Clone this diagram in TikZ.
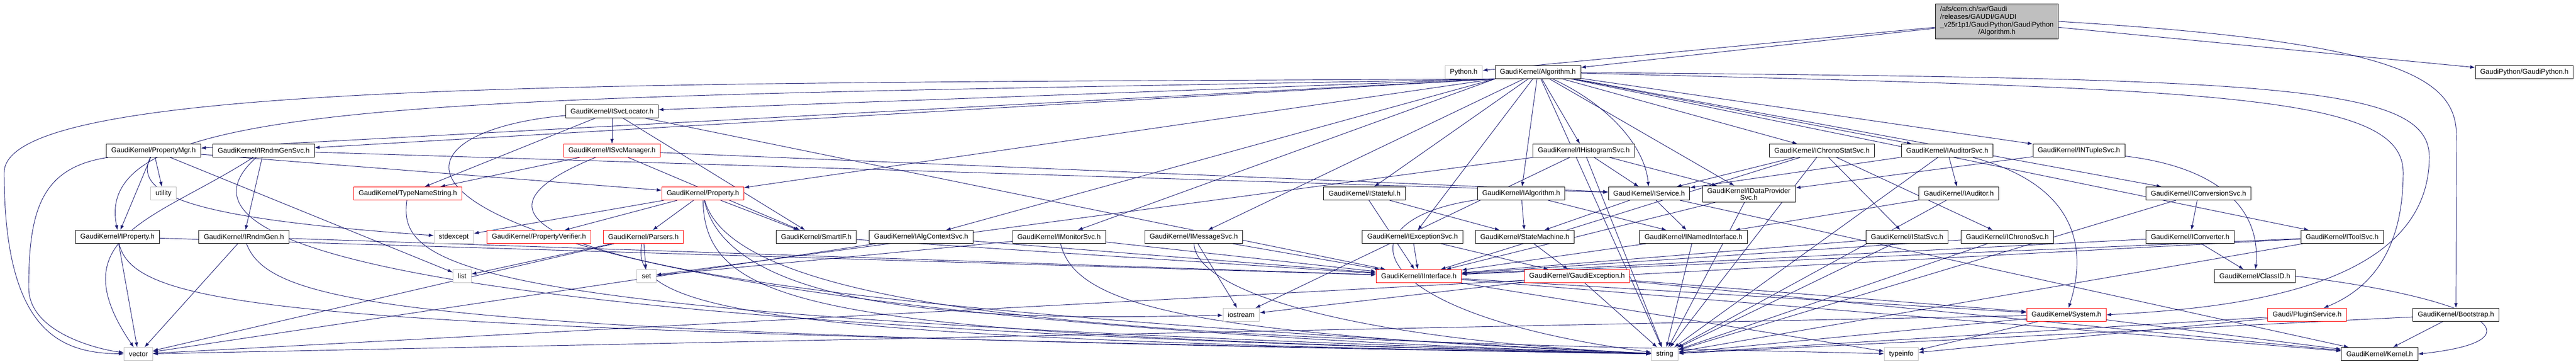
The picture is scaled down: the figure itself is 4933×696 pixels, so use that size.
\documentclass[tikz,border=0pt]{standalone}
\usepackage{fontspec}
\setmainfont{Liberation Sans}
\usetikzlibrary{arrows.meta,backgrounds}
\definecolor{edgeblue}{RGB}{25,25,112}
\definecolor{grey75}{RGB}{191,191,191}
\begin{document}
\begin{tikzpicture}[x=0.75pt,y=-0.75pt,
    hdr/.style={draw=black,fill=white,line width=0.75pt,minimum height=18.75pt,inner xsep=7pt,inner ysep=1pt,font=\fontsize{10}{10}\selectfont},
    sys/.style={hdr,draw=grey75},
    trunc/.style={hdr,draw=red},
    inc/.style={draw=edgeblue,line width=0.7pt,-{Latex[length=7pt,width=5pt]}}]
\useasboundingbox (0,0) rectangle (4933,696);
\node[hdr,fill=grey75,inner ysep=3pt] (root) at (3824,41) {\fontsize{10}{11}\selectfont\begin{tabular}{@{}l@{}}/afs/cern.ch/sw/Gaudi\\/releases/GAUDI/GAUDI\\\_v25r1p1/GaudiPython/GaudiPython\\\multicolumn{1}{@{}c@{}}{/Algorithm.h}\end{tabular}};
\node[sys] (python) at (2803,138) {Python.h};
\node[hdr] (algo) at (2945,138) {GaudiKernel/Algorithm.h};
\node[hdr] (gpy) at (4834,138) {GaudiPython/GaudiPython.h};
\node[hdr] (svcloc) at (1172,213) {GaudiKernel/ISvcLocator.h};
\node[hdr] (propmgr) at (294,288) {GaudiKernel/PropertyMgr.h};
\node[hdr] (rndmsvc) at (505,288) {GaudiKernel/IRndmGenSvc.h};
\node[trunc] (svcmgr) at (1172,288) {GaudiKernel/ISvcManager.h};
\node[hdr] (histo) at (3033,288) {GaudiKernel/IHistogramSvc.h};
\node[hdr] (chronostat) at (3489,288) {GaudiKernel/IChronoStatSvc.h};
\node[hdr] (auditorsvc) at (3729,288) {GaudiKernel/IAuditorSvc.h};
\node[hdr] (ntuple) at (3981,288) {GaudiKernel/INTupleSvc.h};
\node[sys] (utility) at (313,370) {utility};
\node[trunc] (typename) at (781,370) {GaudiKernel/TypeNameString.h};
\node[trunc] (property) at (1346,370) {GaudiKernel/Property.h};
\node[hdr] (istateful) at (2613,370) {GaudiKernel/IStateful.h};
\node[hdr] (ialgo) at (2913,370) {GaudiKernel/IAlgorithm.h};
\node[hdr] (iservice) at (3158,370) {GaudiKernel/IService.h};
\node[hdr,align=center,inner ysep=3pt] (dataprov) at (3349,371) {GaudiKernel/IDataProvider\\Svc.h};
\node[hdr] (iauditor) at (3751,370) {GaudiKernel/IAuditor.h};
\node[hdr] (convsvc) at (4210,370) {GaudiKernel/IConversionSvc.h};
\node[hdr] (iprop) at (225,453) {GaudiKernel/IProperty.h};
\node[hdr] (rndmgen) at (467,453) {GaudiKernel/IRndmGen.h};
\node[sys] (stdexcept) at (869,453) {stdexcept};
\node[trunc] (verifier) at (1032,453) {GaudiKernel/PropertyVerifier.h};
\node[trunc] (parsers) at (1232,453) {GaudiKernel/Parsers.h};
\node[hdr] (smartif) at (1563,453) {GaudiKernel/SmartIF.h};
\node[hdr] (algctx) at (1764,453) {GaudiKernel/IAlgContextSvc.h};
\node[hdr] (monitor) at (2028,453) {GaudiKernel/IMonitorSvc.h};
\node[hdr] (msgsvc) at (2286,453) {GaudiKernel/IMessageSvc.h};
\node[hdr] (excsvc) at (2705,453) {GaudiKernel/IExceptionSvc.h};
\node[hdr] (statemach) at (2920,453) {GaudiKernel/StateMachine.h};
\node[hdr] (named) at (3243,453) {GaudiKernel/INamedInterface.h};
\node[hdr] (statsvc) at (3652,453) {GaudiKernel/IStatSvc.h};
\node[hdr] (chronosvc) at (3844,453) {GaudiKernel/IChronoSvc.h};
\node[hdr] (converter) at (4194,453) {GaudiKernel/IConverter.h};
\node[hdr] (toolsvc) at (4485,453) {GaudiKernel/IToolSvc.h};
\node[sys] (list) at (885,528) {list};
\node[sys] (set) at (1238,528) {set};
\node[trunc] (iinterface) at (2717,528) {GaudiKernel/IInterface.h};
\node[trunc] (gaudiexc) at (3020,528) {GaudiKernel/GaudiException.h};
\node[hdr] (classid) at (4318,528) {GaudiKernel/ClassID.h};
\node[sys] (iostream) at (2377,602) {iostream};
\node[trunc] (system) at (3957,602) {GaudiKernel/System.h};
\node[trunc] (plugin) at (4418,602) {Gaudi/PluginService.h};
\node[hdr] (boot) at (4703,602) {GaudiKernel/Bootstrap.h};
\node[sys] (vector) at (265,677) {vector};
\node[sys] (string) at (3188,677) {string};
\node[sys] (typeinfo) at (3641,677) {typeinfo};
\node[hdr] (kernel) at (4557,677) {GaudiKernel/Kernel.h};
\begin{scope}[on background layer]
\draw[inc] (root) -- (python);
\draw[inc] (root) -- (algo);
\draw[inc] (root) -- (gpy);
\draw[inc] (root.east) .. controls (4600,80) and (4704,150) .. (4704,260) -- (boot);
\draw[inc] (algo.south west) -- (svcloc);
\draw[inc] (algo.south west) -- (propmgr);
\draw[inc] (algo.south west) -- (rndmsvc);
\draw[inc] (algo.south west) .. controls (900,190) and (170,175) .. (iprop.north);
\draw[inc] (algo.south west) .. controls (1200,160) and (8,150) .. (8,330) .. controls (8,640) and (120,675) .. (vector);
\draw[inc] (algo.south west) -- (property);
\draw[inc] (algo.south west) -- (algctx);
\draw[inc] (algo.south west) -- (monitor);
\draw[inc] (algo) -- (msgsvc);
\draw[inc] (algo) -- (istateful);
\draw[inc] (algo) -- (excsvc);
\draw[inc] (algo) -- (ialgo);
\draw[inc] (algo) -- (histo);
\draw[inc] (algo) .. controls (3080,200) and (3150,280) .. (iservice);
\draw[inc] (algo) -- (dataprov);
\draw[inc] (algo) -- (chronostat);
\draw[inc] (algo) -- (auditorsvc);
\draw[inc] (algo) -- (ntuple);
\draw[inc] (algo) -- (convsvc);
\draw[inc] (algo) -- (toolsvc);
\draw[inc] (algo) -- (string);
\draw[inc] (algo) .. controls (4250,170) and (4602,180) .. (4602,330) .. controls (4602,500) and (4520,560) .. (plugin);
\draw[inc] (algo) .. controls (4350,150) and (4652,160) .. (4652,300) .. controls (4652,560) and (4250,590) .. (system.east);
\draw[inc] (svcloc) -- (svcmgr);
\draw[inc] (svcloc) -- (typename);
\draw[inc] (svcloc) -- (smartif);
\draw[inc] (svcloc) -- (iinterface);
\draw[inc] (svcloc) .. controls (640,260) and (640,600) .. (string);
\draw[inc] (svcmgr) -- (typename);
\draw[inc] (svcmgr) -- (smartif);
\draw[inc] (svcmgr) -- (iservice);
\draw[inc] (svcmgr) .. controls (900,400) and (780,560) .. (string);
\draw[inc] (propmgr) -- (iprop);
\draw[inc] (propmgr) -- (utility);
\draw[inc] (propmgr) .. controls (250,380) and (400,420) .. (stdexcept);
\draw[inc] (propmgr) .. controls (80,320) and (55,400) .. (55,550) .. controls (55,640) and (200,670) .. (vector);
\draw[inc] (propmgr) -- (list);
\draw[inc] (propmgr) -- (property);
\draw[inc] (rndmsvc) .. controls (300,420) and (110,450) .. (vector);
\draw[inc] (rndmsvc) .. controls (360,420) and (420,620) .. (string);
\draw[inc] (rndmsvc) -- (rndmgen);
\draw[inc] (rndmsvc) -- (iservice);
\draw[inc] (rndmgen) -- (vector);
\draw[inc] (rndmgen) .. controls (520,590) and (800,640) .. (string);
\draw[inc] (rndmgen) -- (iinterface);
\draw[inc] (iprop) -- (vector);
\draw[inc] (iprop) .. controls (260,600) and (600,630) .. (string);
\draw[inc] (iprop) -- (iinterface);
\draw[inc] (typename) .. controls (760,520) and (900,610) .. (string);
\draw[inc] (property) -- (stdexcept);
\draw[inc] (property) -- (verifier);
\draw[inc] (property) -- (parsers);
\draw[inc] (property) -- (smartif);
\draw[inc] (property) .. controls (1350,600) and (1600,640) .. (string);
\draw[inc] (property) .. controls (1400,620) and (2000,610) .. (iostream);
\draw[inc] (property) .. controls (1420,640) and (2500,650) .. (typeinfo);
\draw[inc] (parsers) -- (list);
\draw[inc] (parsers) -- (vector);
\draw[inc] (parsers) .. controls (1200,600) and (1500,650) .. (string);
\draw[inc] (parsers) -- (set);
\draw[inc] (smartif) -- (iinterface);
\draw[inc] (algctx) -- (iinterface);
\draw[inc] (algctx) -- (vector);
\draw[inc] (monitor) -- (set);
\draw[inc] (monitor) -- (iinterface);
\draw[inc] (monitor) .. controls (2060,590) and (2300,640) .. (string);
\draw[inc] (msgsvc) -- (iostream);
\draw[inc] (msgsvc) .. controls (2290,560) and (2600,650) .. (string);
\draw[inc] (msgsvc) -- (iinterface);
\draw[inc] (histo) -- (iservice);
\draw[inc] (histo) -- (dataprov);
\draw[inc] (histo) -- (string);
\draw[inc] (histo) -- (iostream);
\draw[inc] (histo) -- (set);
\draw[inc] (chronostat) -- (iservice);
\draw[inc] (chronostat) -- (statsvc);
\draw[inc] (chronostat) -- (chronosvc);
\draw[inc] (chronostat) -- (string);
\draw[inc] (chronostat) -- (iinterface);
\draw[inc] (auditorsvc) -- (iservice);
\draw[inc] (auditorsvc) -- (iauditor);
\draw[inc] (auditorsvc) .. controls (4000,360) and (3990,500) .. (system);
\draw[inc] (auditorsvc) -- (string);
\draw[inc] (ntuple) -- (dataprov);
\draw[inc] (ntuple) .. controls (4250,320) and (4330,400) .. (classid);
\draw[inc] (istateful) -- (statemach);
\draw[inc] (istateful) -- (iinterface);
\draw[inc] (ialgo) -- (statemach);
\draw[inc] (ialgo) -- (named);
\draw[inc] (ialgo) .. controls (2560,420) and (2600,600) .. (string);
\draw[inc] (iservice) -- (statemach);
\draw[inc] (iservice) -- (named);
\draw[inc] (iservice) -- (kernel);
\draw[inc] (dataprov) -- (iinterface);
\draw[inc] (dataprov) -- (string);
\draw[inc] (iauditor) -- (named);
\draw[inc] (iauditor) -- (string);
\draw[inc] (convsvc) -- (converter);
\draw[inc] (convsvc) -- (string);
\draw[inc] (excsvc) -- (iinterface);
\draw[inc] (excsvc) -- (gaudiexc);
\draw[inc] (statemach) -- (gaudiexc);
\draw[inc] (named) -- (iinterface);
\draw[inc] (named) -- (string);
\draw[inc] (statsvc) -- (iinterface);
\draw[inc] (statsvc) -- (string);
\draw[inc] (chronosvc) -- (iinterface);
\draw[inc] (chronosvc) -- (string);
\draw[inc] (converter) -- (classid);
\draw[inc] (converter) -- (iinterface);
\draw[inc] (toolsvc) -- (iinterface);
\draw[inc] (toolsvc) -- (string);
\draw[inc] (toolsvc) -- (vector);
\draw[inc] (iinterface) -- (system);
\draw[inc] (iinterface) -- (kernel);
\draw[inc] (iinterface) -- (typeinfo);
\draw[inc] (gaudiexc) -- (string);
\draw[inc] (gaudiexc) -- (system);
\draw[inc] (gaudiexc) -- (kernel);
\draw[inc] (gaudiexc) -- (iostream);
\draw[inc] (classid.east) .. controls (4750,570) and (4880,650) .. (kernel.east);
\draw[inc] (system) -- (typeinfo);
\draw[inc] (system) -- (string);
\draw[inc] (system) -- (vector);
\draw[inc] (system) -- (kernel);
\draw[inc] (plugin) -- (string);
\draw[inc] (plugin) -- (typeinfo);
\draw[inc] (boot) -- (kernel);
\draw[inc] (boot) -- (string);
\end{scope}
\end{tikzpicture}
\end{document}
